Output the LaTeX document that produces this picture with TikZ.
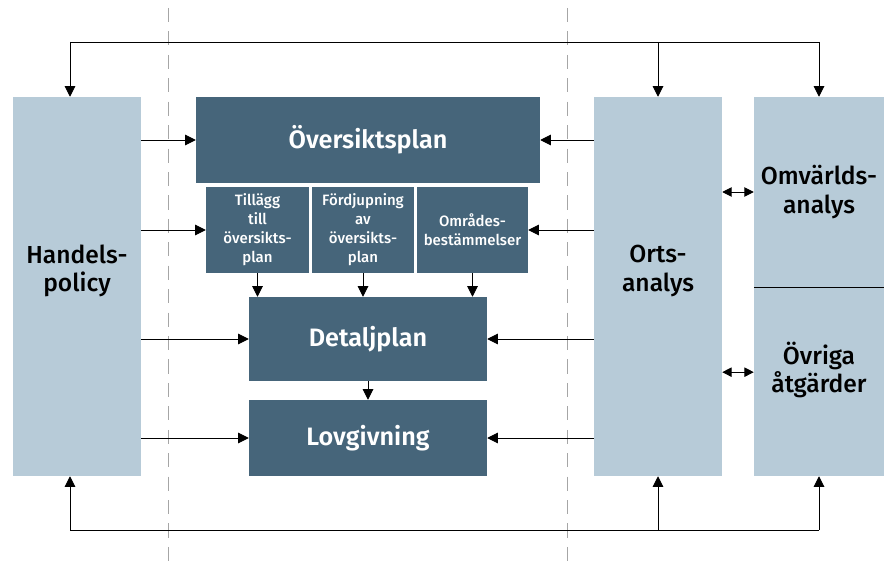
\documentclass[tikz,border=0pt]{standalone}
\usepackage{fontspec}
\setmainfont{Fira Sans}
\newfontfamily\medfont{Fira Sans Medium}
\newfontfamily\semifont{Fira Sans SemiBold}
\usepackage{xcolor}
\usepackage{tikz}
\usetikzlibrary{arrows.meta, positioning}

\definecolor{darkbox}{HTML}{46657A}
\definecolor{lightbox}{HTML}{B7CBD8}

\begin{document}
\begin{tikzpicture}[
    x=0.03cm, y=-0.03cm,
    darkblock/.style={rectangle, fill=darkbox, text=white, inner sep=0pt, align=center, font=\semifont\fontsize{21.5}{24}\selectfont},
    subblock/.style={darkblock, minimum height=2.58cm, font=\medfont\fontsize{12.8}{16.3}\selectfont},
    lightblock/.style={rectangle, fill=lightbox, inner sep=0pt, align=center, font=\medfont\fontsize{21}{24.5}\selectfont},
    arrow/.style={-{Triangle[length=3.2mm, width=3.2mm]}, line width=0.8pt},
    dblarrow/.style={{Triangle[length=2.8mm, width=2.8mm]}-{Triangle[length=2.8mm, width=2.8mm]}, line width=0.8pt},
    line/.style={line width=0.8pt},
    zone/.style={gray!70, line width=0.6pt, dash pattern=on 12pt off 8pt}
]
\useasboundingbox (0,0) rectangle (884,563);

% Zone borders
\coordinate (zl) at (168,8);
\coordinate (zr) at (567,8);
\draw[zone] (zl) -- (zl |- 0,563);
\draw[zone] (zr) -- (zr |- 0,563);

% Outer boxes
\node[lightblock, minimum width=3.84cm, minimum height=11.37cm, text depth=1.1cm] (handel) at (77,286.5) {Handels-\\policy};
\node[lightblock, minimum width=3.84cm, minimum height=11.37cm, text depth=1.1cm] (orts) at (658,286.5) {Orts-\\analys};
\node[lightblock, minimum width=3.9cm, minimum height=5.7cm] (omv) at (819,192) {Omvärlds-\\analys};
\node[lightblock, minimum width=3.9cm, minimum height=5.67cm, text depth=0.85cm] (ovr) at (819,381.5) {Övriga\\åtgärder};
\draw[line width=1pt] (omv.south west) -- (omv.south east);

% Plan boxes
\node[darkblock, minimum width=10.32cm, minimum height=2.58cm] (oversikt) at (368,140) {Översiktsplan};
\node[subblock, minimum width=3.09cm] (tillagg) at (257.5,230) {Tillägg\\till\\översikts-\\plan};
\node[subblock, minimum width=3.06cm] (fordj) at (363,230) {Fördjupning\\av\\översikts-\\plan};
\node[subblock, minimum width=3.33cm] (omrade) at (472.5,230) {Områdes-\\bestämmelser};
\node[darkblock, minimum width=7.14cm, minimum height=2.52cm] (detalj) at (368,339) {Detaljplan};
\node[darkblock, minimum width=7.14cm, minimum height=2.28cm] (lov) at (368,438) {Lovgivning};

% Handelspolicy to plans
\draw[arrow] (handel.east |- oversikt.west) -- (oversikt.west);
\draw[arrow] (handel.east |- tillagg.west) -- (tillagg.west);
\draw[arrow] (handel.east |- detalj.west) -- (detalj.west);
\draw[arrow] (handel.east |- lov.west) -- (lov.west);

% Ortsanalys to plans
\draw[arrow] (orts.west |- oversikt.east) -- (oversikt.east);
\draw[arrow] (orts.west |- omrade.east) -- (omrade.east);
\draw[arrow] (orts.west |- detalj.east) -- (detalj.east);
\draw[arrow] (orts.west |- lov.east) -- (lov.east);

% Down the chain
\draw[arrow] (tillagg.south) -- (tillagg.south |- detalj.north);
\draw[arrow] (fordj.south) -- (fordj.south |- detalj.north);
\draw[arrow] (omrade.south) -- (omrade.south |- detalj.north);
\draw[arrow] (detalj.south) -- (lov.north);

% Ortsanalys and right column
\draw[dblarrow] (orts.east |- omv.west) -- (omv.west);
\draw[dblarrow] ([yshift=0.28cm]orts.east |- ovr.west) -- ([yshift=0.28cm]ovr.west);

% Feedback loops top and bottom
\coordinate (top) at (70,42);
\coordinate (bot) at (70,530);
\draw[line] (top) -- (omv.north |- top);
\draw[arrow] (top) -- (top |- handel.north);
\draw[arrow] (orts.north |- top) -- (orts.north);
\draw[arrow] (omv.north |- top) -- (omv.north);
\draw[line] (bot) -- (ovr.south |- bot);
\draw[arrow] (bot) -- (bot |- handel.south);
\draw[arrow] (orts.south |- bot) -- (orts.south);
\draw[arrow] (ovr.south |- bot) -- (ovr.south);
\end{tikzpicture}
\end{document}
